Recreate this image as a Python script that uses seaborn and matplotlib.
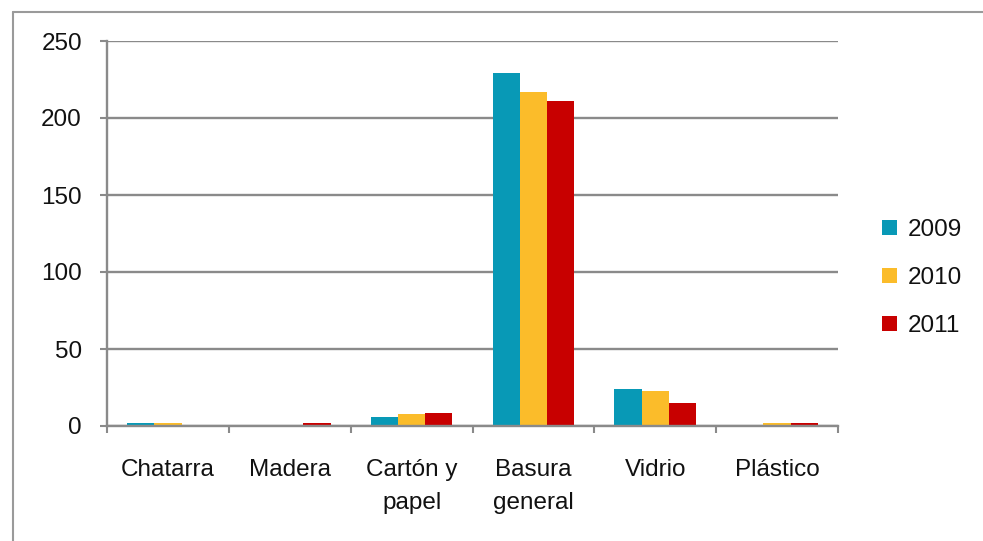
import matplotlib
matplotlib.use("Agg")
import matplotlib.pyplot as plt
import seaborn as sns
import pandas as pd
from matplotlib.lines import Line2D
from matplotlib.patches import Patch

# Residuos recogidos por tipo y año
categories = ["Chatarra", "Madera", "Cartón y\npapel", "Basura\ngeneral", "Vidrio", "Plástico"]
years = ["2009", "2010", "2011"]
values_2009 = [2, 0, 6, 229, 24, 0]
values_2010 = [2, 0, 7.5, 217, 23, 2]
values_2011 = [0, 2, 8.5, 211, 15, 2]
y_ticks = [0, 50, 100, 150, 200, 250]

colors = {"2009": "#0899b6", "2010": "#fbbc2a", "2011": "#c80000"}
grid_color = "#8a8a8a"

df = pd.DataFrame({
    "categoria": categories * 3,
    "año": [y for y in years for _ in categories],
    "valor": values_2009 + values_2010 + values_2011,
})

sns.set_theme(style="white")
plt.rcParams["font.family"] = ["Liberation Sans", "DejaVu Sans"]

fig = plt.figure(figsize=(9.83, 5.41), dpi=100)
ax = fig.add_axes([107 / 983, 1 - 426 / 541, (838 - 107) / 983, (426 - 41) / 541])

sns.barplot(data=df, x="categoria", y="valor", hue="año", order=categories,
            hue_order=years, palette=colors, width=0.67, edgecolor="none",
            saturation=1, legend=False, ax=ax)

ax.set_xlim(-0.5, len(categories) - 0.5)
ax.set_ylim(0, 250)
ax.set_xlabel("")
ax.set_ylabel("")

# y axis: gridlines and labels
ax.set_yticks(y_ticks)
ax.set_yticklabels([str(t) for t in y_ticks])
ax.yaxis.grid(True, color=grid_color, linewidth=1.7)
ax.set_axisbelow(True)
ax.tick_params(axis="y", which="major", direction="out", length=5, width=1.5,
               color=grid_color, pad=13, labelsize=17.5, labelcolor="#111111", left=True)

# x axis: tick marks between categories, labels at centres
ax.set_xticks([i - 0.5 for i in range(len(categories) + 1)])
ax.set_xticklabels([""] * (len(categories) + 1))
ax.set_xticks(range(len(categories)), minor=True)
ax.set_xticklabels(categories, minor=True)
ax.tick_params(axis="x", which="major", direction="out", length=5, width=1.5,
               color=grid_color, bottom=True)
ax.tick_params(axis="x", which="minor", length=0, pad=24, labelsize=17.5,
               labelcolor="#111111")
for lbl in ax.get_xticklabels(minor=True):
    lbl.set_linespacing(1.6)

for side in ["top", "right"]:
    ax.spines[side].set_visible(False)
for side in ["left", "bottom"]:
    ax.spines[side].set_color(grid_color)
    ax.spines[side].set_linewidth(1.7)

# legend on the right
handles = [Patch(facecolor=colors[y], edgecolor="none") for y in years]
fig.legend(handles, years, loc="center left", bbox_to_anchor=(882 / 983, 1 - 278 / 541),
           frameon=False, fontsize=17.5, handlelength=0.6, handleheight=0.6,
           handletextpad=0.45, labelspacing=1.07, borderpad=0, borderaxespad=0,
           labelcolor="#111111")

# chart area border
fig.add_artist(Line2D([13 / 983, 13 / 983], [0, 1 - 12 / 541], transform=fig.transFigure,
                      color="#9a9a9a", linewidth=1.5))
fig.add_artist(Line2D([13 / 983, 1], [1 - 12 / 541, 1 - 12 / 541], transform=fig.transFigure,
                      color="#9a9a9a", linewidth=1.5))

fig.savefig("out.png", dpi=100)
